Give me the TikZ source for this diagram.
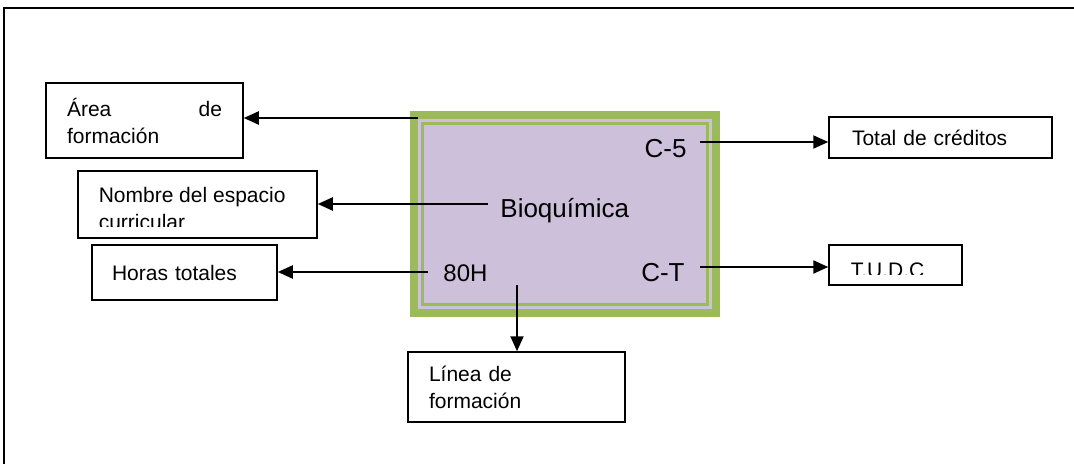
\documentclass[tikz,border=0pt]{standalone}
\usepackage{fontspec}
\setmainfont{Liberation Sans}
\usetikzlibrary{arrows.meta}
\definecolor{leaf}{HTML}{9BBB59}
\definecolor{lilac}{HTML}{CCC0DA}
\tikzset{
  card/.style={draw,line width=.75pt,inner sep=0pt,align=left,font=\fontsize{10.5}{13.5}\selectfont},
  lead/.style={line width=1pt,-{Triangle[length=7.5pt,width=6.5pt]}},
  tag/.style={inner sep=0pt,font=\fontsize{13}{15}\selectfont}
}
\begin{document}
\begin{tikzpicture}[x=.5pt,y=-.5pt]
\useasboundingbox (0,0) rectangle (1074,464);
% frame
\draw[line width=1pt] (4,464) -- (4,8) -- (1074,8);
% central box
\node[draw=leaf,line width=4pt,fill=lilac,minimum width=151pt,minimum height=99pt,inner sep=0pt,outer sep=0pt] (core) at (565,214) {};
\draw[leaf,line width=1.5pt] ([shift={(8.5,8.5)}]core.north west) rectangle ([shift={(-8.5,-8.5)}]core.south east);
\node[tag,anchor=base east] (c5) at (687,158) {C-5};
\node[tag,anchor=base west] (bio) at (500,218) {Bioquímica};
\node[tag,anchor=base west,font=\fontsize{12}{14}\selectfont] (hrs) at (443,282) {80H};
\node[tag,anchor=base east] (ct) at (685,282) {C-T};
% boxes round it
\node[card,minimum width=98.5pt,minimum height=37.5pt,text width=77.5pt] (area) at (144.5,120.5) {Área\hfill de\\formación};
\node[card,minimum width=92.5pt,minimum height=27.5pt,text width=72.5pt] (horas) at (184.5,272.5) {Horas totales};
\node[card,minimum width=111.5pt,minimum height=20.5pt,text width=88.5pt] (total) at (940.5,137.5) {Total de créditos};
\node[card,minimum width=108.5pt,minimum height=35pt,text width=87.5pt] (linea) at (516.5,387) {Línea de\\formación};
\begin{scope}
  \clip (78,171) rectangle (317,227);
  \node[card,draw=none,anchor=base west] (nametxt) at (98,230) {Nombre del espacio\\curricular};
\end{scope}
\node[card,minimum width=119.5pt,minimum height=33.5pt] (nombre) at (197.5,204.5) {};
\begin{scope}
  \clip (829,245) rectangle (962,275);
  \node[card,draw=none,anchor=base west] (tudctxt) at (850,278) {T.U.D.C};
\end{scope}
\node[card,minimum width=66.5pt,minimum height=20pt] (tudc) at (895.5,265) {};
% arrows
\coordinate (areaout) at (418,118);
\coordinate (nameout) at (488,204);
\coordinate (hrsout) at (428,272);
\coordinate (c5out) at (700,142);
\coordinate (ctout) at (700,267);
\coordinate (lineout) at (517,285);
\draw[lead] (areaout) -- (area.east |- areaout);
\draw[lead] (nameout) -- (nombre.east |- nameout);
\draw[lead] (hrsout) -- (horas.east |- hrsout);
\draw[lead] (c5out) -- (total.west |- c5out);
\draw[lead] (ctout) -- (tudc.west |- ctout);
\draw[lead] (lineout) -- (linea.north -| lineout);
\end{tikzpicture}
\end{document}
